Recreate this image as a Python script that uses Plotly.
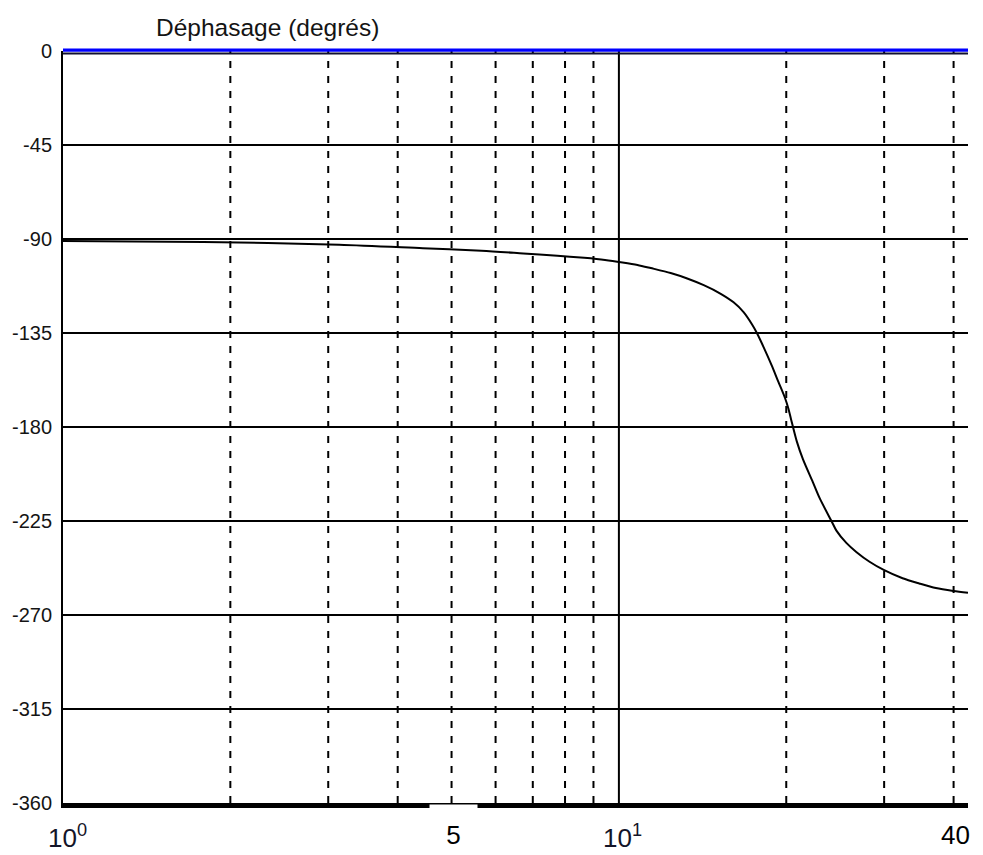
import numpy as np
import plotly.graph_objects as go

# ---- data ----
freq = [1.0, 1.79, 3.14, 4.44, 5.66, 6.73, 7.75, 8.66, 9.44, 10.15, 10.8, 11.41,
        12.39, 13.27, 14.21, 15.22, 16.08, 16.76, 17.35, 17.71, 18.19, 18.83,
        19.36, 19.89, 20.17, 20.39, 20.9, 21.43, 22.33, 22.98, 24.14, 24.62, 25.65,
        26.73, 28.24, 29.95, 32.38, 34.7, 37.17, 39.96, 42.46]
phase = [-90.9, -91.4, -92.7, -94.4, -95.6, -96.9, -98.0, -99.0, -100.0, -101.2,
         -102.4, -103.9, -106.3, -108.9, -112.1, -116.1, -120.3, -125.0, -130.8,
         -135.0, -141.5, -150.5, -158.4, -166.0, -171.0, -176.0, -187.0, -195.4,
         -206.4, -214.2, -225.2, -229.6, -235.5, -239.8, -244.5, -248.4, -252.4,
         -254.9, -257.1, -258.5, -259.4]

y_ticks = [0, -45, -90, -135, -180, -225, -270, -315, -360]
y_tick_labels = ["0", "-45", "-90", "-135", "-180", "-225", "-270", "-315", "-360"]

x_grid_dashed = [2, 3, 4, 5, 6, 7, 8, 9, 20, 30, 40]
x_grid_solid = [10]

x_ticks = [1, 5, 10, 40]
x_tick_labels = ["10<sup>0</sup>", "5", "10<sup>1</sup>", "40"]

title_text = "Déphasage (degrés)"
x_max = 42.46

REG = "Liberation Sans, Arial, sans-serif"

fig = go.Figure()


def vlines(vals):
    xs, ys = [], []
    for v in vals:
        xs += [v, v, None]
        ys += [-360, 0, None]
    return xs, ys


xs, ys = vlines(x_grid_dashed)
fig.add_trace(go.Scatter(x=xs, y=ys, mode="lines", hoverinfo="skip",
                         line=dict(color="black", width=2, dash="7px,8px"),
                         showlegend=False))
xs, ys = vlines(x_grid_solid)
fig.add_trace(go.Scatter(x=xs, y=ys, mode="lines", hoverinfo="skip",
                         line=dict(color="black", width=2),
                         showlegend=False))

fig.add_trace(go.Scatter(x=freq, y=phase, mode="lines",
                         line=dict(color="black", width=2, shape="spline",
                                   smoothing=0.8),
                         showlegend=False))

plot_h = 855 - 51 - 52
plot_w = 983 - 59 - 15

# top blue line (y = 0) with a dark edge below
fig.add_shape(type="line", xref="paper", yref="paper", x0=0, x1=1,
              y0=1 - 2.5 / plot_h, y1=1 - 2.5 / plot_h,
              line=dict(color="#101030", width=1.8))
fig.add_shape(type="line", xref="paper", yref="paper", x0=0, x1=1,
              y0=1 + 0.8 / plot_h, y1=1 + 0.8 / plot_h,
              line=dict(color="#0000FF", width=3.2))

annotations = []
for v, lab in zip(x_ticks, x_tick_labels):
    if "<sup>" in lab:
        annotations.append(dict(x=np.log10(v), xref="x", y=-33 / plot_h, yref="paper",
                                text=lab, showarrow=False, xanchor="center",
                                yanchor="middle", xshift=4,
                                font=dict(family=REG, size=26, color="#141428")))
    else:
        annotations.append(dict(x=np.log10(v), xref="x", y=-32 / plot_h, yref="paper",
                                text=lab, showarrow=False, xanchor="center",
                                yanchor="middle", xshift=2,
                                width=45, height=58, bgcolor="white" if v == 5 else None,
                                font=dict(family=REG, size=26, color="black")))

annotations.append(dict(x=(264 - 59) / plot_w, xref="paper",
                        y=1 + (51 - 27) / plot_h, yref="paper",
                        text=title_text, showarrow=False,
                        xanchor="center", yanchor="middle",
                        font=dict(family=REG, size=24.5, color="#141414")))

fig.update_layout(
    width=983, height=855,
    margin=dict(l=59, r=15, t=51, b=52),
    paper_bgcolor="white", plot_bgcolor="white",
    annotations=annotations,
    xaxis=dict(type="log", range=[0, np.log10(x_max)], showgrid=False,
               showticklabels=False, ticks="", zeroline=False,
               showline=True, linecolor="black", linewidth=5),
    yaxis=dict(range=[-360, 0], tickmode="array", tickvals=y_ticks,
               ticktext=y_tick_labels, showgrid=True, gridcolor="black",
               gridwidth=2, zeroline=False, showline=True, linecolor="black",
               linewidth=2, ticks="", ticklabelstandoff=5,
               tickfont=dict(family=REG, size=20, color="#141414")),
)

fig.write_html("out.html")
